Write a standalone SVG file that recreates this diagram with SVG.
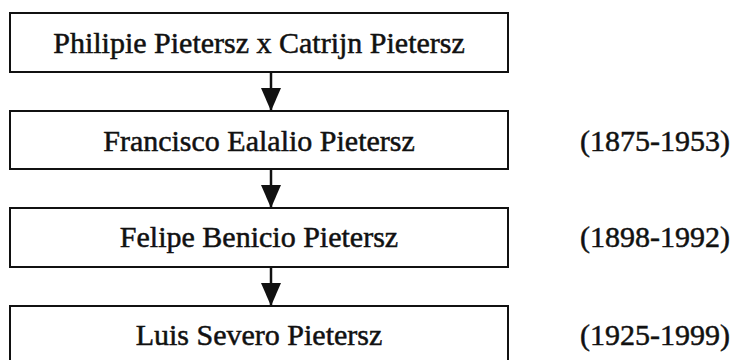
<svg xmlns="http://www.w3.org/2000/svg" width="741" height="360" viewBox="0 0 741 360">
  <style>
    .box { fill: #ffffff; stroke: #111111; stroke-width: 2; }
    .name { font-family: "Liberation Serif", "Times New Roman", serif; font-size: 30px; fill: #111111; text-anchor: middle; stroke: #111111; stroke-width: 0.5; }
    .date { font-family: "Liberation Serif", "Times New Roman", serif; font-size: 30px; fill: #111111; stroke: #111111; stroke-width: 0.5; }
    .conn { stroke: #111111; stroke-width: 2.5; fill: none; }
  </style>
  <defs>
    <marker id="arrow" markerUnits="userSpaceOnUse" markerWidth="23" markerHeight="20" refX="23" refY="10" orient="auto">
      <path d="M0,0 L23,10 L0,20 z" fill="#111111"/>
    </marker>
  </defs>
  <rect width="741" height="360" fill="#ffffff"/>
  <g id="connectors">
    <line class="conn" x1="271" y1="72" x2="271" y2="111" marker-end="url(#arrow)"/>
    <line class="conn" x1="271" y1="169" x2="271" y2="208" marker-end="url(#arrow)"/>
    <line class="conn" x1="271" y1="267" x2="271" y2="306" marker-end="url(#arrow)"/>
  </g>
  <g id="node-philipie">
    <rect class="box" x="10" y="13" width="498" height="59"/>
    <text class="name" x="259" y="53">Philipie Pietersz x Catrijn Pietersz</text>
  </g>
  <g id="node-francisco">
    <rect class="box" x="10" y="111" width="498" height="58"/>
    <text class="name" x="259" y="151">Francisco Ealalio Pietersz</text>
    <text class="date" x="580" y="151">(1875-1953)</text>
  </g>
  <g id="node-felipe">
    <rect class="box" x="10" y="208" width="498" height="59"/>
    <text class="name" x="259" y="247">Felipe Benicio Pietersz</text>
    <text class="date" x="580" y="247">(1898-1992)</text>
  </g>
  <g id="node-luis">
    <rect class="box" x="10" y="306" width="498" height="60"/>
    <text class="name" x="259" y="345">Luis Severo Pietersz</text>
    <text class="date" x="580" y="345">(1925-1999)</text>
  </g>
</svg>
